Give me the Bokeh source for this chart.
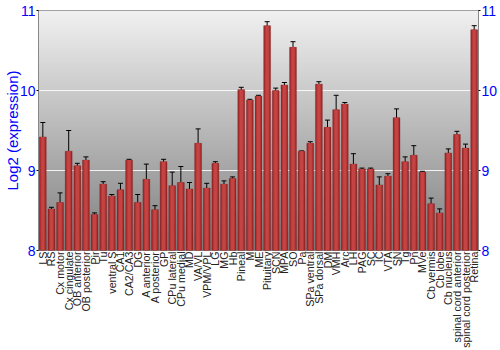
import numpy as np
from bokeh.plotting import figure
from bokeh.models import (ColumnDataSource, Range1d, LinearAxis, FixedTicker,
                          Whisker, TeeHead)
from bokeh.embed import file_html
from bokeh.resources import INLINE

regions = ["LS", "RS", "Cx motor", "Cx cingulate", "OB anterior", "OB posterior",
           "Pir", "Tu", "ventral S", "CA1", "CA2/CA3", "DG", "A anterior",
           "A posterior", "GP", "CPu lateral", "CPu medial", "MD", "VA/VL",
           "VPM/VPL", "LG", "MG", "Hb", "Pineal", "M", "ME", "Pituitary", "SCN",
           "MPA", "SO", "Pa", "SPa ventral", "SPa dorsal", "DM", "VMH", "Arc",
           "LH", "PAG", "SC", "IC", "VTA", "SN", "Tg", "Pn", "MVe", "Cb vermis",
           "Cb lobe", "Cb nucleus", "spinal cord anterior",
           "spinal cord posterior", "Retina"]

expression = [9.42, 8.52, 8.60, 9.24, 9.06, 9.13, 8.45, 8.83, 8.68, 8.76, 9.13,
              8.60, 8.89, 8.51, 9.11, 8.81, 8.85, 8.77, 9.34, 8.78, 9.09, 8.83,
              8.90, 10.01, 9.88, 9.93, 10.81, 10.00, 10.07, 10.54, 9.24, 9.34,
              10.08, 9.54, 9.76, 9.83, 9.08, 9.02, 9.02, 8.82, 8.93, 9.66, 9.11,
              9.19, 8.98, 8.585, 8.47, 9.22, 9.45, 9.28, 10.76]

error = [0.18, 0.02, 0.12, 0.26, 0.03, 0.04, 0.02, 0.03, 0.02, 0.08, 0.01, 0.10,
         0.19, 0.05, 0.03, 0.17, 0.20, 0.08, 0.18, 0.06, 0.02, 0.04, 0.02, 0.03,
         0.01, 0.01, 0.05, 0.03, 0.03, 0.07, 0.005, 0.02, 0.03, 0.09, 0.18, 0.02,
         0.13, 0.01, 0.01, 0.10, 0.03, 0.11, 0.06, 0.12, 0.01, 0.07, 0.05, 0.05,
         0.04, 0.05, 0.05]

y_ticks = [8, 9, 10, 11]

idx = list(range(len(regions)))
src = ColumnDataSource(dict(
    x=idx,
    top=expression,
    upper=[v + e for v, e in zip(expression, error)],
    lower=[v - e for v, e in zip(expression, error)],
))

p = figure(width=500, height=350, output_backend="svg", toolbar_location=None,
           x_range=Range1d(-0.5, len(regions) - 0.5), y_range=Range1d(8, 11),
           min_border_left=34, min_border_right=20, min_border_top=10,
           min_border_bottom=99, background_fill_color="#ffffff",
           outline_line_color="#888888")

# background gradient (light at top, dark at bottom)
n = 256
g = np.linspace(128, 241, n).astype(np.uint32)
img = np.zeros((n, 1), dtype=np.uint32)
view = img.view(dtype=np.uint8).reshape((n, 1, 4))
view[:, 0, 0] = g
view[:, 0, 1] = g
view[:, 0, 2] = g
view[:, 0, 3] = 255
p.image_rgba(image=[img], x=-0.5, y=8, dw=len(regions), dh=3, level="image")

p.ygrid.ticker = FixedTicker(ticks=[9, 10])
p.ygrid.grid_line_color = "white"
p.ygrid.grid_line_alpha = 0.85
p.ygrid.level = "underlay"
p.xgrid.grid_line_color = None

# bars with cylinder-like shading
p.vbar(x="x", top="top", bottom=8, width=0.8, source=src,
       fill_color="#8e2222", line_color="#7a1c1c", line_width=0.5, line_alpha=0.6)
p.vbar(x="x", top="top", bottom=8, width=0.62, source=src,
       fill_color="#b33333", line_color=None)
p.vbar(x="x", top="top", bottom=8, width=0.36, source=src,
       fill_color="#c44444", line_color=None)

w = Whisker(base="x", upper="upper", lower="lower", source=src,
            line_color="black", line_width=1,
            upper_head=TeeHead(size=5, line_color="black", line_width=1),
            lower_head=TeeHead(size=5, line_color="black", line_width=1))
p.add_layout(w)

# axes
p.xaxis.ticker = FixedTicker(ticks=idx)
p.xaxis.major_label_overrides = {i: r for i, r in enumerate(regions)}
p.xaxis.major_label_orientation = np.pi / 2
p.xaxis.major_label_text_font = "Liberation Sans"
p.xaxis.major_label_text_font_size = "10.7px"
p.xaxis.major_label_text_color = "#222222"
p.xaxis.major_label_standoff = 1
p.xaxis.axis_line_color = None
p.xaxis.major_tick_line_color = None
p.xaxis.major_tick_out = 0
p.xaxis.minor_tick_line_color = None

p.yaxis.ticker = FixedTicker(ticks=y_ticks)
p.yaxis.axis_label = "Log2 (expression)"
p.yaxis.axis_label_text_color = "#0000ff"
p.yaxis.axis_label_text_font = "Liberation Sans"
p.yaxis.axis_label_text_font_style = "normal"
p.yaxis.axis_label_text_font_size = "15px"
p.yaxis.axis_label_standoff = -4

right = LinearAxis(ticker=FixedTicker(ticks=y_ticks))
p.add_layout(right, "right")

for ax in (p.yaxis[0], right):
    ax.major_label_text_color = "#0000ff"
    ax.major_label_text_font = "Liberation Sans"
    ax.major_label_text_font_size = "14px"
    ax.major_label_standoff = 1
    ax.axis_line_color = "#888888"
    ax.major_tick_line_color = "black"
    ax.major_tick_out = 2
    ax.major_tick_in = 0
    ax.minor_tick_line_color = None

open("out.html", "w").write(file_html(p, INLINE))
